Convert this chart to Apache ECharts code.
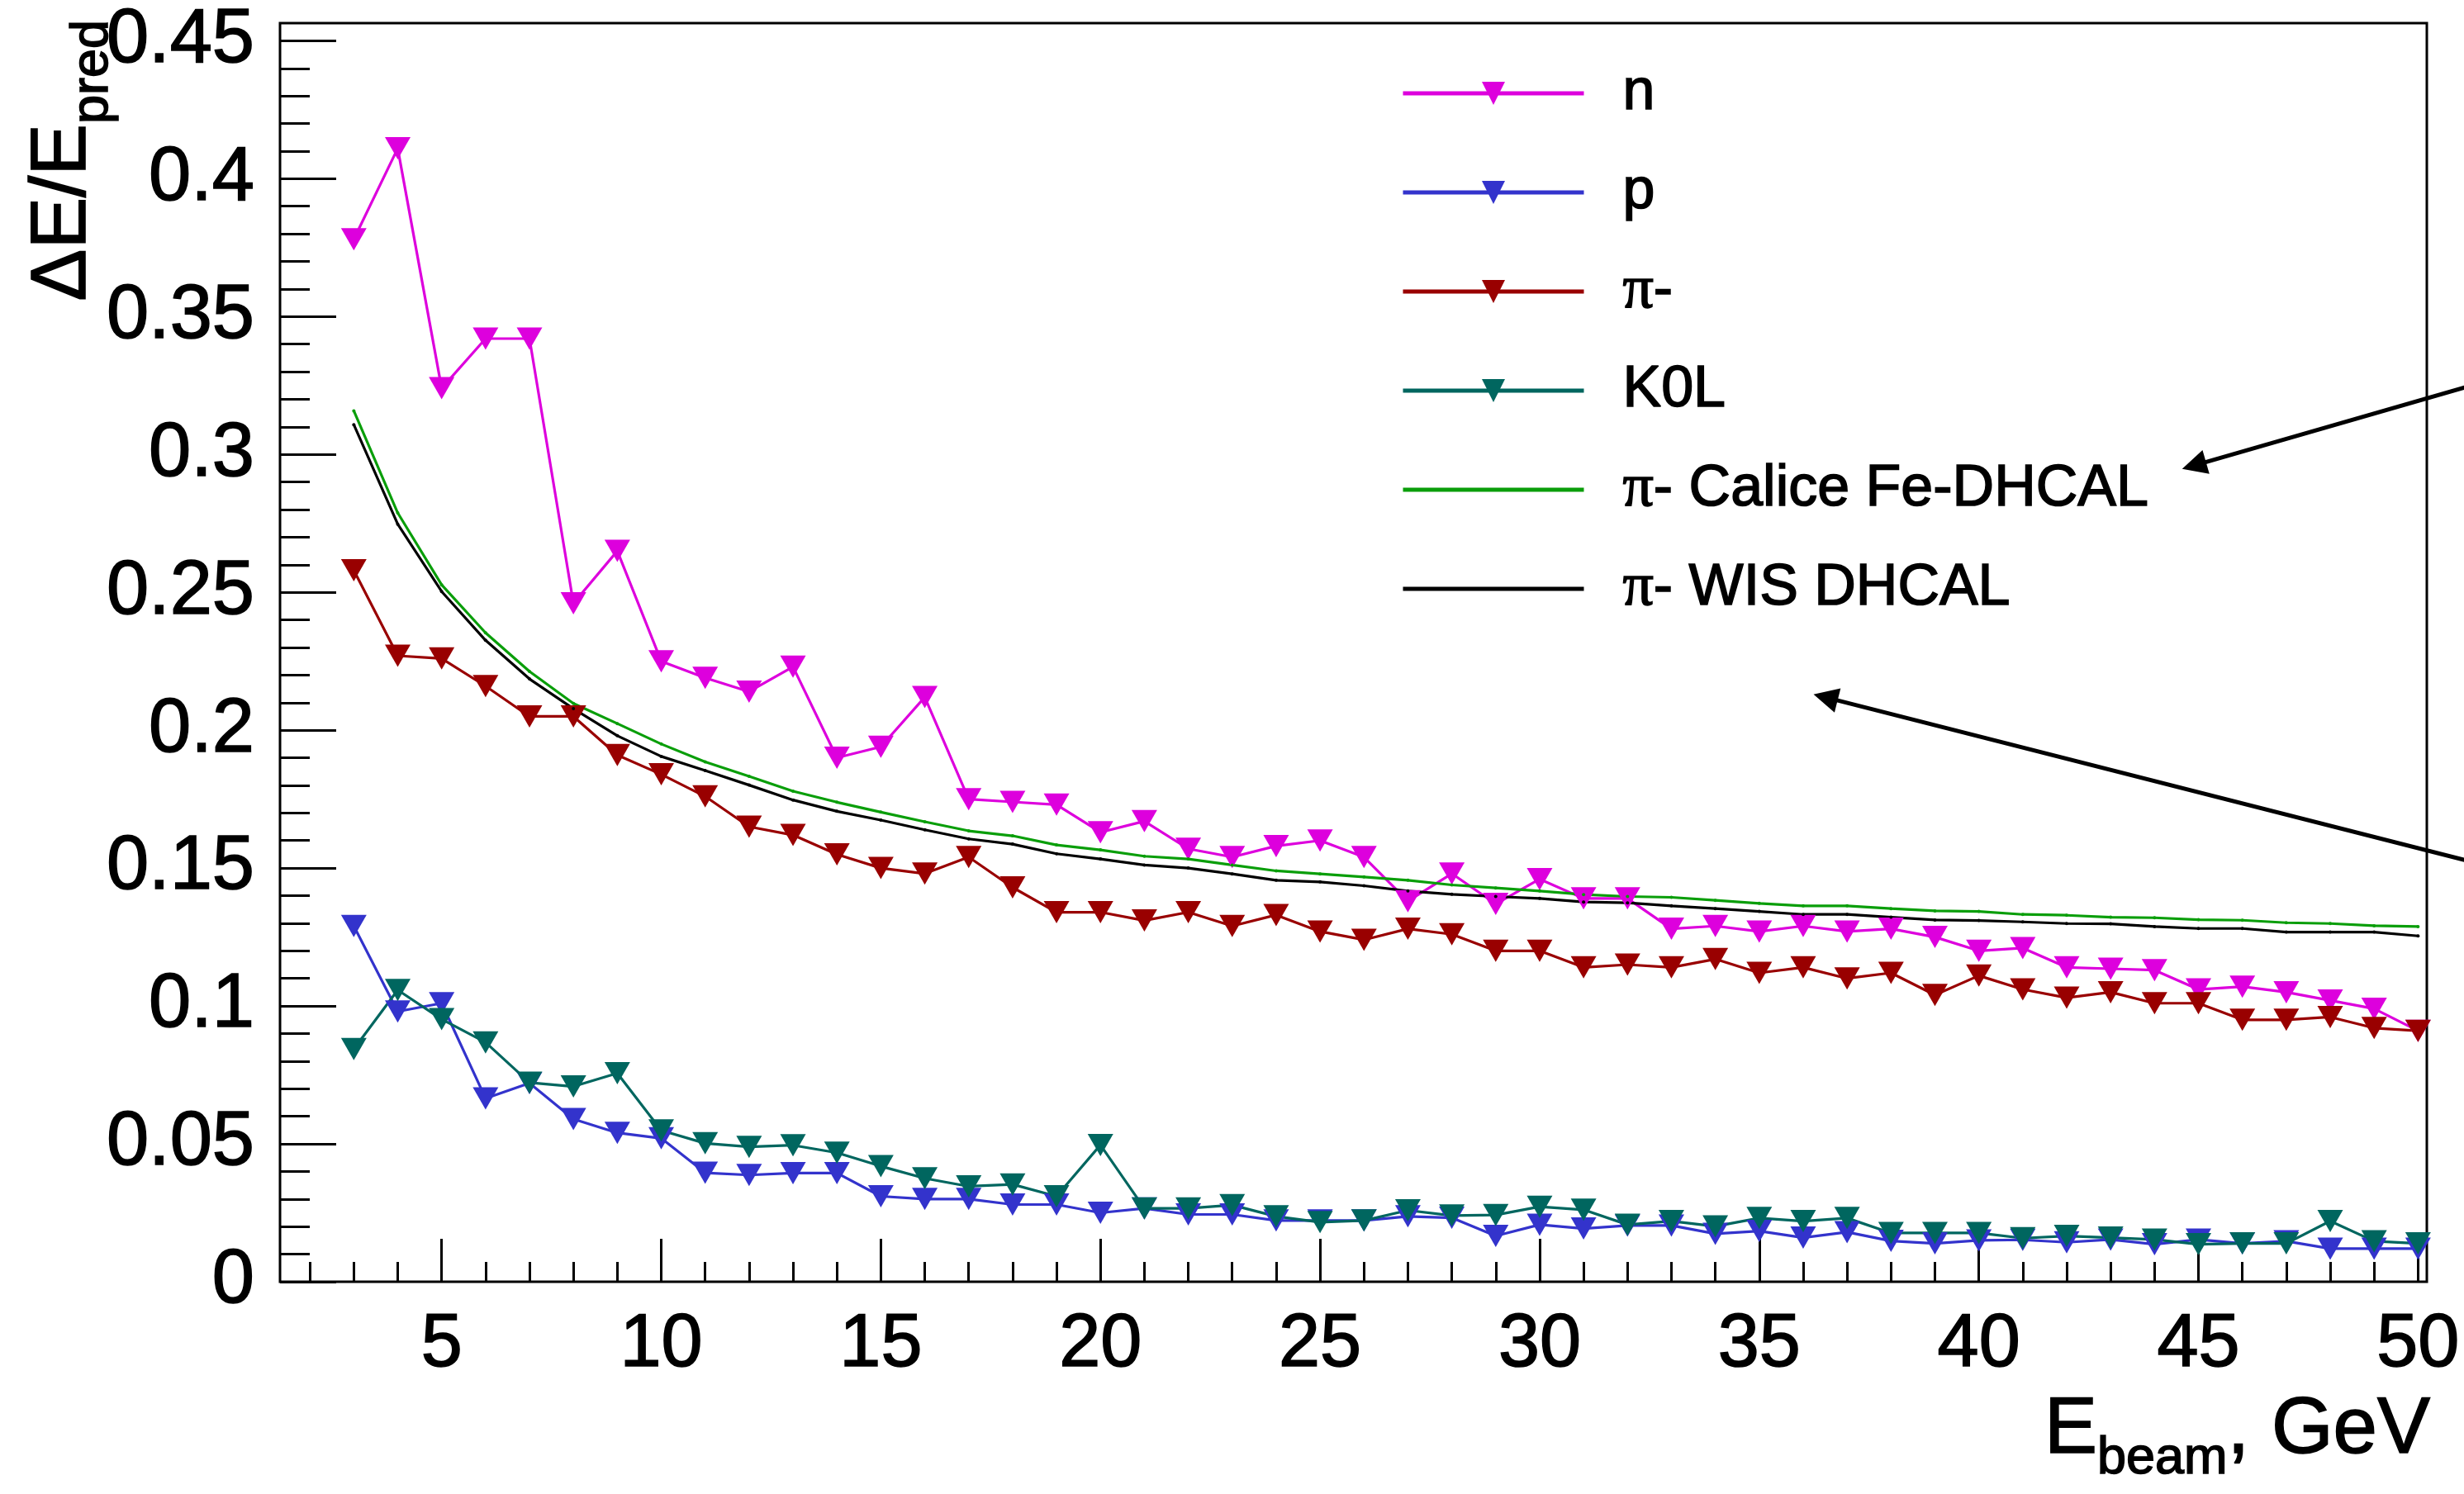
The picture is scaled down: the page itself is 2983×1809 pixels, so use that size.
<!DOCTYPE html>
<html>
<head>
<meta charset="utf-8">
<script src="https://cdn.jsdelivr.net/npm/echarts@6/dist/echarts.min.js"></script>
<style>
  html, body { margin: 0; padding: 0; background: #ffffff; }
  #chart { width: 2983px; height: 1809px; }
</style>
</head>
<body>
<div id="chart"></div>
<script>
// Beam energies (GeV)
const energies = [3, 4, 5, 6, 7, 8, 9, 10, 11, 12, 13, 14, 15, 16, 17, 18, 19, 20, 21, 22, 23, 24, 25, 26,
  27, 28, 29, 30, 31, 32, 33, 34, 35, 36, 37, 38, 39, 40, 41, 42, 43, 44, 45, 46, 47, 48, 49, 50];

// Relative energy resolution per particle type
const neutronRes = [0.378, 0.411, 0.324, 0.342, 0.342, 0.246, 0.265, 0.225, 0.219, 0.214, 0.223, 0.190,
  0.194, 0.212, 0.175, 0.174, 0.173, 0.163, 0.167, 0.157, 0.154, 0.158, 0.160, 0.154,
  0.138, 0.148, 0.137, 0.146, 0.139, 0.139, 0.128, 0.129, 0.127, 0.129, 0.127, 0.128,
  0.125, 0.120, 0.121, 0.114, 0.1135, 0.113, 0.106, 0.107, 0.105, 0.102, 0.099, 0.091];

const protonRes = [0.129, 0.098, 0.101, 0.0665, 0.072, 0.059, 0.054, 0.052, 0.0395, 0.0387, 0.0394, 0.0394,
  0.031, 0.030, 0.030, 0.028, 0.028, 0.025, 0.0266, 0.0244, 0.0244, 0.0222, 0.0222, 0.0222,
  0.0237, 0.0232, 0.0166, 0.0207, 0.0193, 0.0204, 0.0204, 0.0174, 0.0184, 0.016, 0.018, 0.0148,
  0.0139, 0.015, 0.0152, 0.0143, 0.0153, 0.0136, 0.0153, 0.0139, 0.0147, 0.012, 0.012, 0.012];

const pionRes = [0.258, 0.227, 0.226, 0.216, 0.205, 0.205, 0.191, 0.184, 0.176, 0.165, 0.162, 0.155,
  0.150, 0.148, 0.154, 0.143, 0.134, 0.134, 0.131, 0.134, 0.129, 0.133, 0.127, 0.124,
  0.128, 0.126, 0.120, 0.120, 0.114, 0.115, 0.114, 0.117, 0.112, 0.114, 0.110, 0.112,
  0.104, 0.111, 0.106, 0.103, 0.105, 0.101, 0.101, 0.095, 0.095, 0.096, 0.092, 0.091];

const kaonRes = [0.0844, 0.1058, 0.0952, 0.0868, 0.0722, 0.0708, 0.0756, 0.0549, 0.0502, 0.0489, 0.0495, 0.0468,
  0.0419, 0.0375, 0.0346, 0.0353, 0.031, 0.0496, 0.0266, 0.0266, 0.0278, 0.0237, 0.0216, 0.0222,
  0.0259, 0.024, 0.0242, 0.0272, 0.0261, 0.0207, 0.022, 0.0201, 0.0231, 0.022, 0.0231, 0.0177,
  0.0177, 0.0177, 0.0158, 0.0166, 0.016, 0.0153, 0.0136, 0.0139, 0.0139, 0.022, 0.0147, 0.0139];

// Reference pion resolution curves from the two DHCAL prototypes
const caliceFeRes = [0.3158, 0.2788, 0.2527, 0.2353, 0.2213, 0.2097, 0.2024, 0.1950, 0.1885, 0.1833, 0.1779, 0.1739,
  0.1703, 0.1668, 0.1635, 0.1617, 0.1584, 0.1566, 0.1543, 0.1533, 0.1511, 0.1490, 0.1479, 0.1468,
  0.1456, 0.1439, 0.1428, 0.1417, 0.1404, 0.1397, 0.1394, 0.1383, 0.1372, 0.1363, 0.1363, 0.1353,
  0.1345, 0.1343, 0.1332, 0.1329, 0.1322, 0.1320, 0.1313, 0.1311, 0.1302, 0.1299, 0.1291, 0.1288];

const wisRes = [0.3108, 0.2747, 0.2503, 0.2326, 0.2186, 0.2078, 0.1980, 0.1905, 0.1854, 0.1801, 0.1747, 0.1706,
  0.1674, 0.1639, 0.1606, 0.1587, 0.1552, 0.1533, 0.1511, 0.1500, 0.1479, 0.1456, 0.1450, 0.1436,
  0.1417, 0.1405, 0.1397, 0.1390, 0.1377, 0.1374, 0.1363, 0.1353, 0.1343, 0.1332, 0.1332, 0.1322,
  0.1312, 0.1310, 0.1305, 0.1299, 0.1298, 0.1288, 0.1281, 0.1281, 0.1268, 0.1268, 0.1268, 0.1254];

// Axis ticks
const xMajorTicks = [5, 10, 15, 20, 25, 30, 35, 40, 45, 50];
const xMinorTicks = [2, 3, 4, 6, 7, 8, 9, 11, 12, 13, 14, 16, 17, 18, 19, 21, 22, 23, 24, 26, 27, 28, 29,
  31, 32, 33, 34, 36, 37, 38, 39, 41, 42, 43, 44, 46, 47, 48, 49];
const yMajorTicks = [0, 0.05, 0.1, 0.15, 0.2, 0.25, 0.3, 0.35, 0.4, 0.45];
const yMinorTicks = [0.01, 0.02, 0.03, 0.04, 0.06, 0.07, 0.08, 0.09, 0.11, 0.12, 0.13, 0.14,
  0.16, 0.17, 0.18, 0.19, 0.21, 0.22, 0.23, 0.24, 0.26, 0.27, 0.28, 0.29,
  0.31, 0.32, 0.33, 0.34, 0.36, 0.37, 0.38, 0.39, 0.41, 0.42, 0.43, 0.44];

// Annotation arrows (data coordinates: start, head)
const arrowToCalice = [[51.07, 0.3243], [44.90, 0.2960]];
const arrowToWis = [[51.07, 0.1529], [36.51, 0.2119]];

const X_MIN = 1.32, X_MAX = 50.2;
const Y_MIN = 0, Y_MAX = 0.4564;

const FONT = '"Liberation Sans", Arial, Helvetica, sans-serif';
const SERIF = '"Liberation Serif", "DejaVu Serif", serif';
// Slight outline so the glyphs have the weight of the plotting package's Helvetica
const INK = { textBorderColor: '#000', textBorderWidth: 1.6 };

function pairs(vals) {
  return energies.map((e, i) => [e, vals[i]]);
}

function markerSeries(name, vals, color) {
  return {
    name: name,
    type: 'line',
    data: pairs(vals),
    symbol: 'triangle',
    symbolRotate: 180,
    symbolSize: [31, 27],
    showSymbol: true,
    showAllSymbol: true,
    lineStyle: { color: color, width: 3.2 },
    itemStyle: { color: color },
    emphasis: { disabled: true },
    animation: false
  };
}

function curveSeries(name, vals, color) {
  return {
    name: name,
    type: 'line',
    data: pairs(vals),
    symbol: 'circle',
    symbolSize: 4,
    showSymbol: true,
    showAllSymbol: true,
    lineStyle: { color: color, width: 3.2 },
    itemStyle: { color: color },
    emphasis: { disabled: true },
    animation: false
  };
}

// Text width helper for composing sub-scripted titles
const measureCtx = document.createElement('canvas').getContext('2d');
function textWidth(str, size) {
  measureCtx.font = size + 'px ' + FONT;
  return measureCtx.measureText(str).width;
}

const X_MAIN_FS = 96, X_SUB_FS = 63;
const Y_MAIN_FS = 94, Y_SUB_FS = 63;
const xTitleRight = 2942;
const wGeV = textWidth(', GeV', X_MAIN_FS);
const wBeam = textWidth('beam', X_SUB_FS);
const wPred = textWidth('pred', Y_SUB_FS);

function titleText(x, y, text, size) {
  return {
    type: 'text', x: x, y: y,
    style: { text: text, fontSize: size, fontFamily: FONT, fill: '#000',
      stroke: '#000', lineWidth: 1.6, align: 'right', verticalAlign: 'middle' }
  };
}

const chart = echarts.init(document.getElementById('chart'), null, { renderer: 'canvas' });

const option = {
  backgroundColor: '#ffffff',
  animation: false,
  grid: {
    left: 339, top: 28, right: 45, bottom: 257,
    show: true, borderColor: '#000', borderWidth: 3, backgroundColor: 'transparent',
    containLabel: false, outerBoundsMode: 'none'
  },
  xAxis: [
    {
      type: 'value', min: X_MIN, max: X_MAX, position: 'bottom',
      axisLine: { show: false }, splitLine: { show: false },
      axisTick: { show: true, inside: true, length: 52, customValues: xMajorTicks,
        lineStyle: { color: '#000', width: 3 } },
      axisLabel: Object.assign({ show: true, customValues: xMajorTicks, margin: 77, verticalAlign: 'middle',
        fontSize: 90, fontFamily: FONT, color: '#000' }, INK)
    },
    {
      type: 'value', min: X_MIN, max: X_MAX, position: 'bottom', gridIndex: 0,
      axisLine: { show: false }, splitLine: { show: false },
      axisTick: { show: true, inside: true, length: 24, customValues: xMinorTicks,
        lineStyle: { color: '#000', width: 3 } },
      axisLabel: { show: false }
    }
  ],
  yAxis: [
    {
      type: 'value', min: Y_MIN, max: Y_MAX, position: 'left',
      axisLine: { show: false }, splitLine: { show: false },
      axisTick: { show: true, inside: true, length: 68, customValues: yMajorTicks,
        lineStyle: { color: '#000', width: 3 } },
      axisLabel: Object.assign({ show: true, customValues: yMajorTicks, margin: 31,
        fontSize: 92, fontFamily: FONT, color: '#000' }, INK)
    },
    {
      type: 'value', min: Y_MIN, max: Y_MAX, position: 'left', gridIndex: 0, offset: 0,
      axisLine: { show: false }, splitLine: { show: false },
      axisTick: { show: true, inside: true, length: 36, customValues: yMinorTicks,
        lineStyle: { color: '#000', width: 3 } },
      axisLabel: { show: false }
    }
  ],
  legend: {
    orient: 'vertical',
    left: 1696, top: 70, padding: 0,
    itemWidth: 219, itemHeight: 35, itemGap: 34,
    selectedMode: false,
    lineStyle: { width: 5 },
    formatter: function (name) { return name.replace('π', '{pi|π}'); },
    textStyle: Object.assign({
      fontSize: 70, fontFamily: FONT, color: '#000', lineHeight: 86, padding: [0, 0, 0, 42],
      rich: { pi: Object.assign({ fontSize: 74, fontFamily: SERIF, color: '#000', lineHeight: 86 }, INK) }
    }, INK),
    data: [
      'n', 'p', 'π-', 'K0L',
      { name: 'π- Calice Fe-DHCAL', itemStyle: { opacity: 0 } },
      { name: 'π- WIS DHCAL', itemStyle: { opacity: 0 } }
    ]
  },
  series: [
    markerSeries('n', neutronRes, '#dd00dd'),
    markerSeries('p', protonRes, '#3333cc'),
    markerSeries('π-', pionRes, '#990000'),
    markerSeries('K0L', kaonRes, '#00665f'),
    curveSeries('π- Calice Fe-DHCAL', caliceFeRes, '#0a9e0a'),
    curveSeries('π- WIS DHCAL', wisRes, '#000000'),
    {
      type: 'lines',
      coordinateSystem: 'cartesian2d',
      clip: false,
      silent: true,
      symbol: ['none', 'triangle'],
      symbolSize: [0, 30],
      lineStyle: { color: '#000', width: 5, opacity: 1, curveness: 0 },
      itemStyle: { color: '#000' },
      data: [{ coords: arrowToCalice }, { coords: arrowToWis }],
      animation: false
    }
  ],
  graphic: [
    // x-axis title: E_beam, GeV
    {
      type: 'group', silent: true,
      children: [
        titleText(xTitleRight, 1733, ', GeV', X_MAIN_FS),
        titleText(xTitleRight - wGeV, 1767, 'beam', X_SUB_FS),
        titleText(xTitleRight - wGeV - wBeam, 1733, 'E', X_MAIN_FS)
      ]
    },
    // y-axis title: ΔE/E_pred (reads bottom to top)
    {
      type: 'group', silent: true, x: 0, y: 24, rotation: Math.PI / 2,
      children: [
        titleText(0, 113, 'pred', Y_SUB_FS),
        titleText(-wPred, 77, 'ΔE/E', Y_MAIN_FS)
      ]
    }
  ]
};

chart.setOption(option);
</script>
</body>
</html>
